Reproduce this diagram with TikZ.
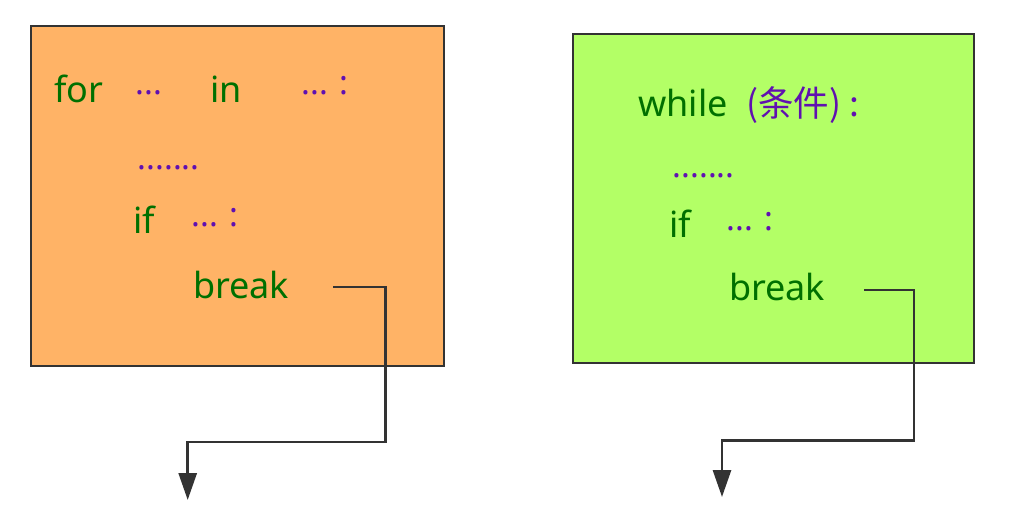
\documentclass[tikz,border=0pt]{standalone}
\usepackage{fontspec}
\setmainfont{Noto Sans}
\newfontfamily\cjkfont{Noto Sans CJK SC}
\usetikzlibrary{arrows.meta}
\definecolor{boxorange}{RGB}{255,179,102}
\definecolor{boxgreen}{RGB}{179,255,102}
\definecolor{kwgreen}{RGB}{0,112,0}
\definecolor{dotpurple}{RGB}{96,16,176}
\definecolor{edge}{RGB}{51,51,51}
\tikzset{
  frame/.style={draw=edge, line width=2.9pt},
  kw/.style={anchor=base west, inner sep=0pt, text=kwgreen, font=\fontsize{36}{40}\selectfont},
  pu/.style={anchor=base west, inner sep=0pt, text=dotpurple, font=\fontsize{33}{38}\selectfont},
  flow/.style={draw=edge, line width=2.9pt, -{Triangle[width=18pt,length=27pt]}}
}
\begin{document}
\begin{tikzpicture}[x=1pt,y=-1pt]
\useasboundingbox (0,0) rectangle (1017,530);
% left box
\path[frame, fill=boxorange] (31,26) rectangle (444,366);
\node[kw] (for) at (54,102) {for};
\node[pu] (d1) at (135.5,94) {...};
\node[kw] (in) at (210,102) {in};
\node[pu] (d2) at (301.5,94) {... :};
\node[pu] (d3) at (137.5,169) {.......};
\node[kw] (if1) at (133,233) {if};
\node[pu] (d4) at (191.5,226) {... :};
\node[kw] (brk1) at (193,298) {break};
% right box
\path[frame, fill=boxgreen] (573,34) rectangle (974,363);
\node[kw] (while) at (638,116) {while};
\node[pu, font=\cjkfont\fontsize{35.5}{40}\selectfont] (cond) at (746,116) {(条件) :};
\node[pu] (d5) at (672.5,177) {.......};
\node[kw] (if2) at (669,237) {if};
\node[pu] (d6) at (726.5,230) {... :};
\node[kw] (brk2) at (729,300) {break};
% connectors
\coordinate (s1) at (333,287);
\coordinate (e1) at (187.7,500);
\coordinate (s2) at (864,290);
\coordinate (e2) at (722,497);
\draw[flow] (s1) -- (385.7,287) -- (385.7,442) -- (187.7,442) -- (e1);
\draw[flow] (s2) -- (914,290) -- (914,440.7) -- (722,440.7) -- (e2);
\end{tikzpicture}
\end{document}
